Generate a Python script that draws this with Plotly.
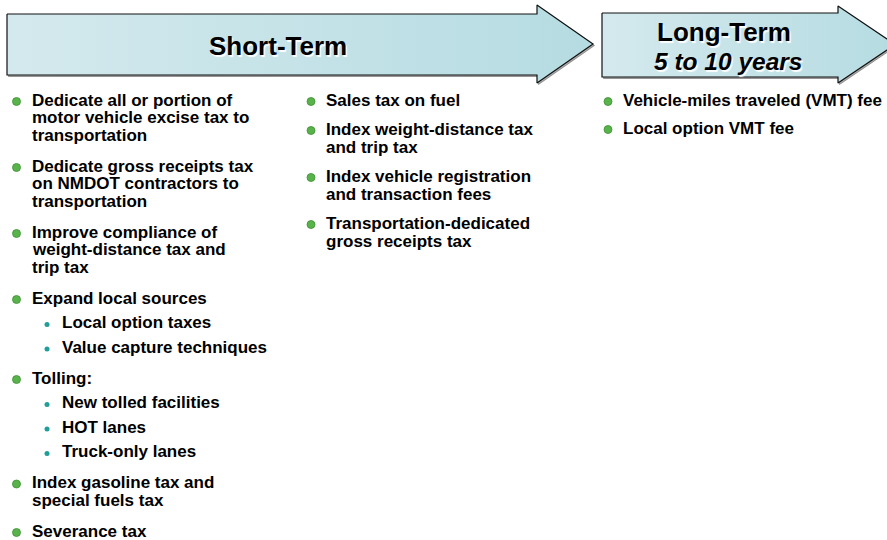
import plotly.graph_objects as go

# ---------------- data ----------------
short_title = "Short-Term"
long_title = "Long-Term"
long_subtitle = "5 to 10 years"

# each item: (list of wrapped lines, list of sub-bullets)
short_col1 = [
    (["Dedicate all or portion of", "motor vehicle excise tax to", "transportation"], []),
    (["Dedicate gross receipts tax", "on NMDOT contractors to", "transportation"], []),
    (["Improve compliance of", "weight-distance tax and", "trip tax"], []),
    (["Expand local sources"], ["Local option taxes", "Value capture techniques"]),
    (["Tolling:"], ["New tolled facilities", "HOT lanes", "Truck-only lanes"]),
    (["Index gasoline tax and", "special fuels tax"], []),
    (["Severance tax"], []),
]
short_col2 = [
    (["Sales tax on fuel"], []),
    (["Index weight-distance tax", "and trip tax"], []),
    (["Index vehicle registration", "and transaction fees"], []),
    (["Transportation-dedicated", "gross receipts tax"], []),
]
long_col = [
    (["Vehicle-miles traveled (VMT) fee"], []),
    (["Local option VMT fee"], []),
]

# ---------------- styling / layout ----------------
W, H = 887, 540
FONT = "Liberation Sans, Arial, sans-serif"
BODY_SIZE = 17

fig = go.Figure()

def arrow(x0, x1, ytop, ybot, head_top, head_bot, tip_x):
    ymid = (head_top + head_bot) / 2
    xs = [x0, x1, x1, tip_x, x1, x1, x0, x0]
    ys = [ytop, ytop, head_top, ymid, head_bot, ybot, ybot, ytop]
    # soft shadow
    fig.add_trace(go.Scatter(x=[v + 1.5 for v in xs], y=[v + 1.5 for v in ys], mode="lines",
                             fill="toself", fillcolor="rgba(70,70,70,0.45)",
                             line=dict(color="rgba(70,70,70,0.45)", width=1),
                             hoverinfo="skip", showlegend=False))
    fig.add_trace(go.Scatter(x=xs, y=ys, mode="lines", fill="toself",
                             fillgradient=dict(type="horizontal",
                                               colorscale=[[0, "#d4e9ed"], [1, "#b5dce2"]]),
                             line=dict(color="#111111", width=1.2),
                             hoverinfo="skip", showlegend=False))

arrow(7, 537, 14, 75, 5, 83, 593)
arrow(602, 838, 13, 77, 6, 83, 895)

title_shadow = "1.5px 1.5px 1px rgba(255,255,255,0.95)"
fig.add_annotation(x=277.5, y=46, text=f"<b>{short_title}</b>", showarrow=False,
                   xref="x", yref="y", xanchor="center", yanchor="middle",
                   font=dict(family=FONT, size=26, color="#000000", shadow=title_shadow))
fig.add_annotation(x=724, y=32, text=f"<b>{long_title}</b>", showarrow=False,
                   xref="x", yref="y", xanchor="center", yanchor="middle",
                   font=dict(family=FONT, size=26, color="#000000", shadow=title_shadow))
fig.add_annotation(x=728, y=61, text=f"<b><i>{long_subtitle}</i></b>", showarrow=False,
                   xref="x", yref="y", xanchor="center", yanchor="middle",
                   font=dict(family=FONT, size=24.5, color="#000000", shadow=title_shadow))

bul_x, bul_y = [], []
sub_x, sub_y = [], []

def column(items, bx, tx, sbx, stx, y0, line_step, item_gap, sub_step=24.5):
    y = y0
    for lines, subs in items:
        bul_x.append(bx); bul_y.append(y + 1.5)
        last = y
        for i, ln in enumerate(lines):
            yy = y + i * line_step
            fig.add_annotation(x=tx, y=yy, text=f"<b>{ln}</b>", showarrow=False,
                               xref="x", yref="y", xanchor="left", yanchor="middle",
                               font=dict(family=FONT, size=BODY_SIZE, color="#000000"))
            last = yy
        for s in subs:
            yy = last + sub_step
            sub_x.append(sbx); sub_y.append(yy + 2)
            fig.add_annotation(x=stx, y=yy, text=f"<b>{s}</b>", showarrow=False,
                               xref="x", yref="y", xanchor="left", yanchor="middle",
                               font=dict(family=FONT, size=BODY_SIZE, color="#000000"))
            last = yy
        y = last + item_gap

column(short_col1, 16.5, 29.5, 47, 59.5, 100, 17.5, 31)
column(short_col2, 311, 323.5, 0, 0, 100, 18, 29)
column(long_col, 608, 620.5, 0, 0, 100, 18, 28)

fig.add_trace(go.Scatter(x=bul_x, y=bul_y, mode="markers",
                         marker=dict(symbol="circle", size=8, color="#58b34a",
                                     line=dict(color="#3d8f33", width=0.8)),
                         hoverinfo="skip", showlegend=False))
fig.add_trace(go.Scatter(x=sub_x, y=sub_y, mode="markers",
                         marker=dict(symbol="circle", size=5, color="#1f9e9a"),
                         hoverinfo="skip", showlegend=False))

fig.update_layout(width=W, height=H, margin=dict(l=0, r=0, t=0, b=0),
                  paper_bgcolor="white", plot_bgcolor="white",
                  xaxis=dict(range=[0, W], visible=False, fixedrange=True),
                  yaxis=dict(range=[H, 0], visible=False, fixedrange=True),
                  showlegend=False, hovermode=False)

fig.write_html("out.html", config={"displayModeBar": False, "staticPlot": True},
               post_script="document.body.style.margin='0';document.body.style.overflow='hidden';")
